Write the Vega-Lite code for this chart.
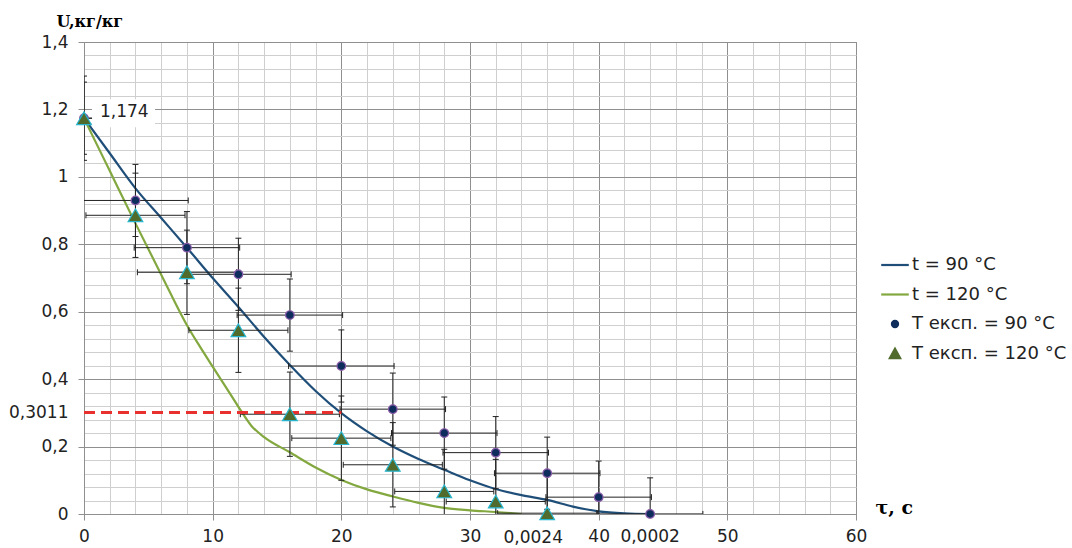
{
  "$schema": "https://vega.github.io/schema/vega-lite/v6.json",
  "width": 772,
  "height": 472,
  "autosize": {"type": "none"},
  "padding": {"left": 84, "top": 42, "right": 216, "bottom": 34},
  "background": "white",
  "config": {"font": "DejaVu Sans", "view": {"stroke": "#8f8f8f"}},
  "datasets": {
    "curves": [
      {"series": "t = 90 °C", "x": 0, "y": 1.174},
      {"series": "t = 90 °C", "x": 2, "y": 1.07},
      {"series": "t = 90 °C", "x": 4, "y": 0.966},
      {"series": "t = 90 °C", "x": 6, "y": 0.878},
      {"series": "t = 90 °C", "x": 8, "y": 0.79},
      {"series": "t = 90 °C", "x": 10, "y": 0.70},
      {"series": "t = 90 °C", "x": 12, "y": 0.614},
      {"series": "t = 90 °C", "x": 14, "y": 0.525},
      {"series": "t = 90 °C", "x": 16, "y": 0.442},
      {"series": "t = 90 °C", "x": 18, "y": 0.365},
      {"series": "t = 90 °C", "x": 20, "y": 0.299},
      {"series": "t = 90 °C", "x": 22, "y": 0.245},
      {"series": "t = 90 °C", "x": 24, "y": 0.200},
      {"series": "t = 90 °C", "x": 26, "y": 0.163},
      {"series": "t = 90 °C", "x": 28, "y": 0.131},
      {"series": "t = 90 °C", "x": 30, "y": 0.100},
      {"series": "t = 90 °C", "x": 32, "y": 0.074},
      {"series": "t = 90 °C", "x": 34, "y": 0.056},
      {"series": "t = 90 °C", "x": 36, "y": 0.042},
      {"series": "t = 90 °C", "x": 38, "y": 0.022},
      {"series": "t = 90 °C", "x": 40, "y": 0.008},
      {"series": "t = 90 °C", "x": 42, "y": 0.002},
      {"series": "t = 90 °C", "x": 44, "y": 0.0},
      {"series": "t = 120 °C", "x": 0, "y": 1.174},
      {"series": "t = 120 °C", "x": 2, "y": 1.018},
      {"series": "t = 120 °C", "x": 4, "y": 0.862},
      {"series": "t = 120 °C", "x": 6, "y": 0.71},
      {"series": "t = 120 °C", "x": 8, "y": 0.56},
      {"series": "t = 120 °C", "x": 9, "y": 0.497},
      {"series": "t = 120 °C", "x": 10, "y": 0.437},
      {"series": "t = 120 °C", "x": 11, "y": 0.378},
      {"series": "t = 120 °C", "x": 12, "y": 0.318},
      {"series": "t = 120 °C", "x": 13, "y": 0.262},
      {"series": "t = 120 °C", "x": 14, "y": 0.228},
      {"series": "t = 120 °C", "x": 16, "y": 0.183},
      {"series": "t = 120 °C", "x": 18, "y": 0.138},
      {"series": "t = 120 °C", "x": 20, "y": 0.101},
      {"series": "t = 120 °C", "x": 22, "y": 0.073},
      {"series": "t = 120 °C", "x": 24, "y": 0.052},
      {"series": "t = 120 °C", "x": 26, "y": 0.033},
      {"series": "t = 120 °C", "x": 28, "y": 0.018},
      {"series": "t = 120 °C", "x": 30, "y": 0.011},
      {"series": "t = 120 °C", "x": 32, "y": 0.006},
      {"series": "t = 120 °C", "x": 34, "y": 0.0}
    ],
    "pts": [
      {"series": "c", "x": 0, "y": 1.174, "xlo": -4.1, "xhi": 4.1, "ylo": 1.067, "yhi": 1.281},
      {"series": "c", "x": 4, "y": 0.93, "xlo": -0.1, "xhi": 8.1, "ylo": 0.823, "yhi": 1.037},
      {"series": "c", "x": 8, "y": 0.79, "xlo": 3.9, "xhi": 12.1, "ylo": 0.683, "yhi": 0.897},
      {"series": "c", "x": 12, "y": 0.711, "xlo": 7.9, "xhi": 16.1, "ylo": 0.604, "yhi": 0.818},
      {"series": "c", "x": 16, "y": 0.59, "xlo": 11.9, "xhi": 20.1, "ylo": 0.483, "yhi": 0.697},
      {"series": "c", "x": 20, "y": 0.439, "xlo": 15.9, "xhi": 24.1, "ylo": 0.332, "yhi": 0.546},
      {"series": "c", "x": 24, "y": 0.311, "xlo": 19.9, "xhi": 28.1, "ylo": 0.204, "yhi": 0.418},
      {"series": "c", "x": 28, "y": 0.24, "xlo": 23.9, "xhi": 32.1, "ylo": 0.133, "yhi": 0.347},
      {"series": "c", "x": 32, "y": 0.182, "xlo": 27.9, "xhi": 36.1, "ylo": 0.075, "yhi": 0.289},
      {"series": "c", "x": 36, "y": 0.121, "xlo": 31.9, "xhi": 40.1, "ylo": 0.014, "yhi": 0.228},
      {"series": "c", "x": 40, "y": 0.05, "xlo": 35.9, "xhi": 44.1, "ylo": -0.057, "yhi": 0.157},
      {"series": "c", "x": 44, "y": 0.0002, "xlo": 39.9, "xhi": 48.1, "ylo": -0.1068, "yhi": 0.1072},
      {"series": "t", "x": 0, "y": 1.174, "xlo": -3.85, "xhi": 3.85, "ylo": 1.049, "yhi": 1.299},
      {"series": "t", "x": 4, "y": 0.886, "xlo": 0.15, "xhi": 7.85, "ylo": 0.761, "yhi": 1.011},
      {"series": "t", "x": 8, "y": 0.717, "xlo": 4.15, "xhi": 11.85, "ylo": 0.592, "yhi": 0.842},
      {"series": "t", "x": 12, "y": 0.545, "xlo": 8.15, "xhi": 15.85, "ylo": 0.42, "yhi": 0.67},
      {"series": "t", "x": 16, "y": 0.296, "xlo": 12.15, "xhi": 19.85, "ylo": 0.171, "yhi": 0.421},
      {"series": "t", "x": 20, "y": 0.225, "xlo": 16.15, "xhi": 23.85, "ylo": 0.1, "yhi": 0.35},
      {"series": "t", "x": 24, "y": 0.146, "xlo": 20.15, "xhi": 27.85, "ylo": 0.021, "yhi": 0.271},
      {"series": "t", "x": 28, "y": 0.067, "xlo": 24.15, "xhi": 31.85, "ylo": -0.058, "yhi": 0.192},
      {"series": "t", "x": 32, "y": 0.037, "xlo": 28.15, "xhi": 35.85, "ylo": -0.088, "yhi": 0.162},
      {"series": "t", "x": 36, "y": 0.0024, "xlo": 32.15, "xhi": 39.85, "ylo": -0.1226, "yhi": 0.1274}
    ]
  },
  "layer": [
    {
      "data": {"name": "curves"},
      "mark": {"type": "line", "strokeWidth": 2.2, "interpolate": "monotone", "clip": true},
      "encoding": {
        "x": {
          "field": "x", "type": "quantitative",
          "scale": {"domain": [0, 60], "nice": false, "zero": false},
          "axis": {
            "values": [0,2,4,6,8,10,12,14,16,18,20,22,24,26,28,30,32,34,36,38,40,42,44,46,48,50,52,54,56,58,60],
            "tickCount": 200,
            "title": "τ, с",
            "titleFont": "DejaVu Serif", "titleFontWeight": "bold", "titleFontSize": 19, "titleColor": "#000",
            "titleX": 791, "titleY": -7, "titleAlign": "left", "titleBaseline": "middle", "titleAngle": 0,
            "labelExpr": "datum.value % 10 === 0 ? toString(datum.value) : ''",
            "labelFont": "DejaVu Sans", "labelFontSize": 17, "labelColor": "#222", "labelPadding": 8, "labelFlush": false, "labelOverlap": false, "labelBound": false,
            "tickSize": 6,
            "tickColor": {"condition": {"test": "datum.value % 10 === 0", "value": "#8f8f8f"}, "value": "transparent"},
            "grid": true,
            "gridColor": {"condition": {"test": "datum.value % 10 === 0", "value": "#8f8f8f"}, "value": "#cfcfcf"},
            "domainColor": "#8f8f8f"
          }
        },
        "y": {
          "field": "y", "type": "quantitative",
          "scale": {"domain": [0, 1.4], "nice": false},
          "axis": {
            "values": [0,0.04,0.08,0.12,0.16,0.2,0.24,0.28,0.32,0.36,0.4,0.44,0.48,0.52,0.56,0.6,0.64,0.68,0.72,0.76,0.8,0.84,0.88,0.92,0.96,1,1.04,1.08,1.12,1.16,1.2,1.24,1.28,1.32,1.36,1.4,0.3011],
            "tickCount": 200,
            "title": "U,кг/кг",
            "titleFont": "DejaVu Serif", "titleFontWeight": "bold", "titleFontSize": 16, "titleColor": "#000",
            "titleX": -28, "titleY": -21, "titleAlign": "left", "titleBaseline": "middle", "titleAngle": 0,
            "labelExpr": "(abs(datum.value*5 - round(datum.value*5)) < 0.000001 || abs(datum.value - 0.3011) < 0.000001) ? replace(toString(datum.value), '.', ',') : ''",
            "labelFont": "DejaVu Sans", "labelFontSize": 17, "labelColor": "#222", "labelPadding": 10, "labelOverlap": false, "labelBound": false, "labelFlush": false,
            "tickSize": 6,
            "tickColor": {"condition": {"test": "abs(datum.value*5 - round(datum.value*5)) < 0.000001", "value": "#8f8f8f"}, "value": "transparent"},
            "grid": true,
            "gridColor": {"condition": {"test": "abs(datum.value*5 - round(datum.value*5)) < 0.000001", "value": "#8f8f8f"}, "value": "#cfcfcf"},
            "gridOpacity": {"condition": {"test": "abs(datum.value - 0.3011) < 0.000001", "value": 0}, "value": 1},
            "domainColor": "#8f8f8f"
          }
        },
        "color": {
          "field": "series", "type": "nominal",
          "scale": {
            "domain": ["t = 90 °C", "t = 120 °C", "T експ. = 90 °C", "T експ. = 120 °C"],
            "range": ["#1f4e79", "#83a83f", "#0e2d5c", "#506b2b"]
          },
          "legend": {
            "orient": "none", "legendX": 802, "legendY": 214, "title": null,
            "labelFontSize": 18, "labelColor": "#222", "labelFont": "DejaVu Sans",
            "symbolSize": 529, "rowPadding": 11.5, "labelOffset": 8, "padding": 0,
            "encode": {
              "symbols": {
                "update": {
                  "shape": {"signal": "datum.value === 'T експ. = 90 °C' ? 'M-0.31,0A0.31,0.31 0 1,0 0.31,0A0.31,0.31 0 1,0 -0.31,0' : datum.value === 'T експ. = 120 °C' ? 'M0,-0.5L0.52,0.45L-0.52,0.45Z' : 'M-1.2,0H1.2'"},
                  "fill": {"signal": "datum.value === 'T експ. = 90 °C' ? '#0e2d5c' : datum.value === 'T експ. = 120 °C' ? '#506b2b' : 'transparent'"},
                  "stroke": {"signal": "datum.value === 'T експ. = 90 °C' ? '#8a5ca8' : datum.value === 'T експ. = 120 °C' ? '#27b5cf' : datum.value === 't = 90 °C' ? '#1f4e79' : '#83a83f'"},
                  "strokeWidth": {"signal": "datum.value === 't = 90 °C' || datum.value === 't = 120 °C' ? 2.2 : 1.2"}
                }
              }
            }
          }
        }
      }
    },
    {
      "data": {"name": "pts"},
      "mark": {"type": "rule", "color": "#222", "strokeWidth": 1, "clip": true},
      "encoding": {
        "x": {"field": "x", "type": "quantitative"},
        "y": {"field": "ylo", "type": "quantitative"},
        "y2": {"field": "yhi"}
      }
    },
    {
      "data": {"name": "pts"},
      "mark": {"type": "rule", "color": "#222", "strokeWidth": 1, "clip": true},
      "encoding": {
        "y": {"field": "y", "type": "quantitative"},
        "x": {"field": "xlo", "type": "quantitative"},
        "x2": {"field": "xhi"}
      }
    },
    {
      "data": {"name": "pts"},
      "mark": {"type": "point", "shape": "M-1,0H1", "size": 36, "filled": false, "stroke": "#222", "strokeWidth": 1, "opacity": 1, "clip": true},
      "encoding": {
        "x": {"field": "x", "type": "quantitative"},
        "y": {"field": "ylo", "type": "quantitative"}
      }
    },
    {
      "data": {"name": "pts"},
      "mark": {"type": "point", "shape": "M-1,0H1", "size": 36, "filled": false, "stroke": "#222", "strokeWidth": 1, "opacity": 1, "clip": true},
      "encoding": {
        "x": {"field": "x", "type": "quantitative"},
        "y": {"field": "yhi", "type": "quantitative"}
      }
    },
    {
      "data": {"name": "pts"},
      "mark": {"type": "point", "shape": "M0,-1V1", "size": 36, "filled": false, "stroke": "#222", "strokeWidth": 1, "opacity": 1, "clip": true},
      "encoding": {
        "x": {"field": "xlo", "type": "quantitative"},
        "y": {"field": "y", "type": "quantitative"}
      }
    },
    {
      "data": {"name": "pts"},
      "mark": {"type": "point", "shape": "M0,-1V1", "size": 36, "filled": false, "stroke": "#222", "strokeWidth": 1, "opacity": 1, "clip": true},
      "encoding": {
        "x": {"field": "xhi", "type": "quantitative"},
        "y": {"field": "y", "type": "quantitative"}
      }
    },
    {
      "data": {"values": [{"x": 0, "x2": 20, "y": 0.3011}]},
      "mark": {"type": "rule", "color": "#e8312f", "strokeWidth": 3, "strokeDash": [11, 6]},
      "encoding": {
        "x": {"field": "x", "type": "quantitative"},
        "x2": {"field": "x2"},
        "y": {"field": "y", "type": "quantitative"}
      }
    },
    {
      "data": {"values": [{"x": 0, "y": 1.174, "label": "1,174"}]},
      "mark": {"type": "point", "shape": "M0.23,-0.54H2.03V0.26H0.23Z", "size": 4900, "filled": true, "fill": "white", "strokeWidth": 0, "opacity": 1},
      "encoding": {
        "x": {"field": "x", "type": "quantitative"},
        "y": {"field": "y", "type": "quantitative"}
      }
    },
    {
      "data": {"name": "pts"},
      "transform": [{"filter": "datum.series === 'c'"}],
      "mark": {"type": "point", "shape": "circle", "size": 75, "filled": true, "fill": "#0e2d5c", "stroke": "#8a5ca8", "strokeWidth": 1.2, "opacity": 1},
      "encoding": {
        "x": {"field": "x", "type": "quantitative"},
        "y": {"field": "y", "type": "quantitative"}
      }
    },
    {
      "data": {"name": "pts"},
      "transform": [{"filter": "datum.series === 't'"}],
      "mark": {"type": "point", "shape": "triangle-up", "size": 215, "filled": true, "fill": "#506b2b", "stroke": "#27b5cf", "strokeWidth": 1.2, "opacity": 1},
      "encoding": {
        "x": {"field": "x", "type": "quantitative"},
        "y": {"field": "y", "type": "quantitative"}
      }
    },
    {
      "data": {"values": [{"x": 0, "y": 1.174, "label": "1,174"}]},
      "mark": {"type": "text", "align": "left", "baseline": "middle", "dx": 16, "dy": -6, "fontSize": 17, "font": "DejaVu Sans", "color": "#222"},
      "encoding": {
        "x": {"field": "x", "type": "quantitative"},
        "y": {"field": "y", "type": "quantitative"},
        "text": {"field": "label"}
      }
    },
    {
      "data": {"values": [{"x": 36, "y": 0.0024, "label": "0,0024"}]},
      "mark": {"type": "text", "align": "center", "baseline": "middle", "dx": -14, "dy": 25, "fontSize": 17, "font": "DejaVu Sans", "color": "#222"},
      "encoding": {
        "x": {"field": "x", "type": "quantitative"},
        "y": {"field": "y", "type": "quantitative"},
        "text": {"field": "label"}
      }
    },
    {
      "data": {"values": [{"x": 44, "y": 0.0002, "label": "0,0002"}]},
      "mark": {"type": "text", "align": "center", "baseline": "middle", "dx": 0, "dy": 23, "fontSize": 17, "font": "DejaVu Sans", "color": "#222"},
      "encoding": {
        "x": {"field": "x", "type": "quantitative"},
        "y": {"field": "y", "type": "quantitative"},
        "text": {"field": "label"}
      }
    }
  ]
}
